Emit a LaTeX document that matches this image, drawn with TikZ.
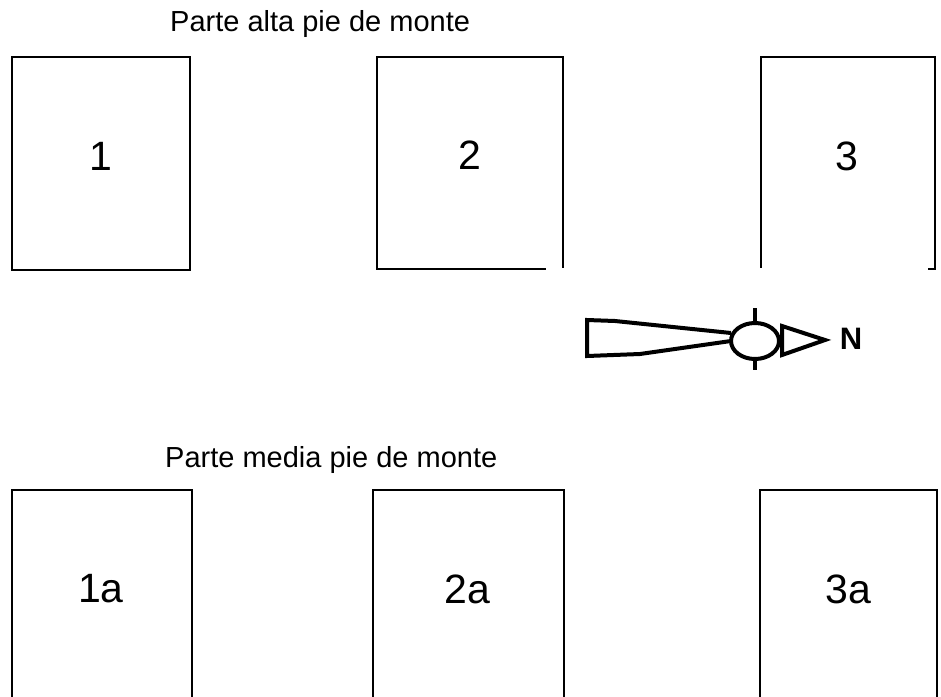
\documentclass[tikz,border=0pt]{standalone}
\usepackage{fontspec}
\setmainfont{Liberation Sans}
\begin{document}
\begin{tikzpicture}[x=1pt,y=-1pt,
  boxline/.style={line width=2.2pt,line cap=rect},
  heading/.style={font=\fontsize{29}{30}\selectfont,inner sep=0pt,anchor=base west},
  plotlabel/.style={font=\fontsize{41}{44}\selectfont,inner sep=0pt},
  compassline/.style={line width=4pt,line join=miter},
]
\useasboundingbox[fill=white] (0,0) rectangle (941,696);

% headings
\node[heading] (hA) at (170,31) {Parte alta pie de monte};
\node[heading] (hB) at (165,467) {Parte media pie de monte};

% upper plots
\draw[boxline] (12,57) rectangle (190,270);
\draw[boxline] (545,269) -- (377,269) -- (377,57) -- (563,57) -- (563,267);
\draw[boxline] (761,267) -- (761,57) -- (935,57) -- (935,269) -- (929,269);

\node[plotlabel] (p1) at (101,156) {1};
\node[plotlabel] (p2) at (470,155) {2};
\node[plotlabel] (p3) at (847,156) {3};

% lower plots (cut by the page edge)
\draw[boxline] (12,700) -- (12,490) -- (192,490) -- (192,700);
\draw[boxline] (373,700) -- (373,490) -- (564,490) -- (564,700);
\draw[boxline] (760,700) -- (760,490) -- (937,490) -- (937,700);

\node[plotlabel] (p1a) at (101,589) {1a};
\node[plotlabel] (p2a) at (467,589) {2a};
\node[plotlabel] (p3a) at (848,589) {3a};

% north arrow
\draw[compassline] (731,333) -- (615,321) -- (587,320) -- (587,356) -- (640,354) -- (731,341);
\draw[compassline] (755,341) ellipse[x radius=24,y radius=18];
\draw[compassline] (755,308) -- (755,323);
\draw[compassline] (755,359) -- (755,370);
\draw[compassline] (782,326) -- (825,340) -- (782,355) -- cycle;
\node[font=\fontsize{31}{32}\selectfont\bfseries,inner sep=0pt] (north) at (851,339) {N};
\end{tikzpicture}
\end{document}
